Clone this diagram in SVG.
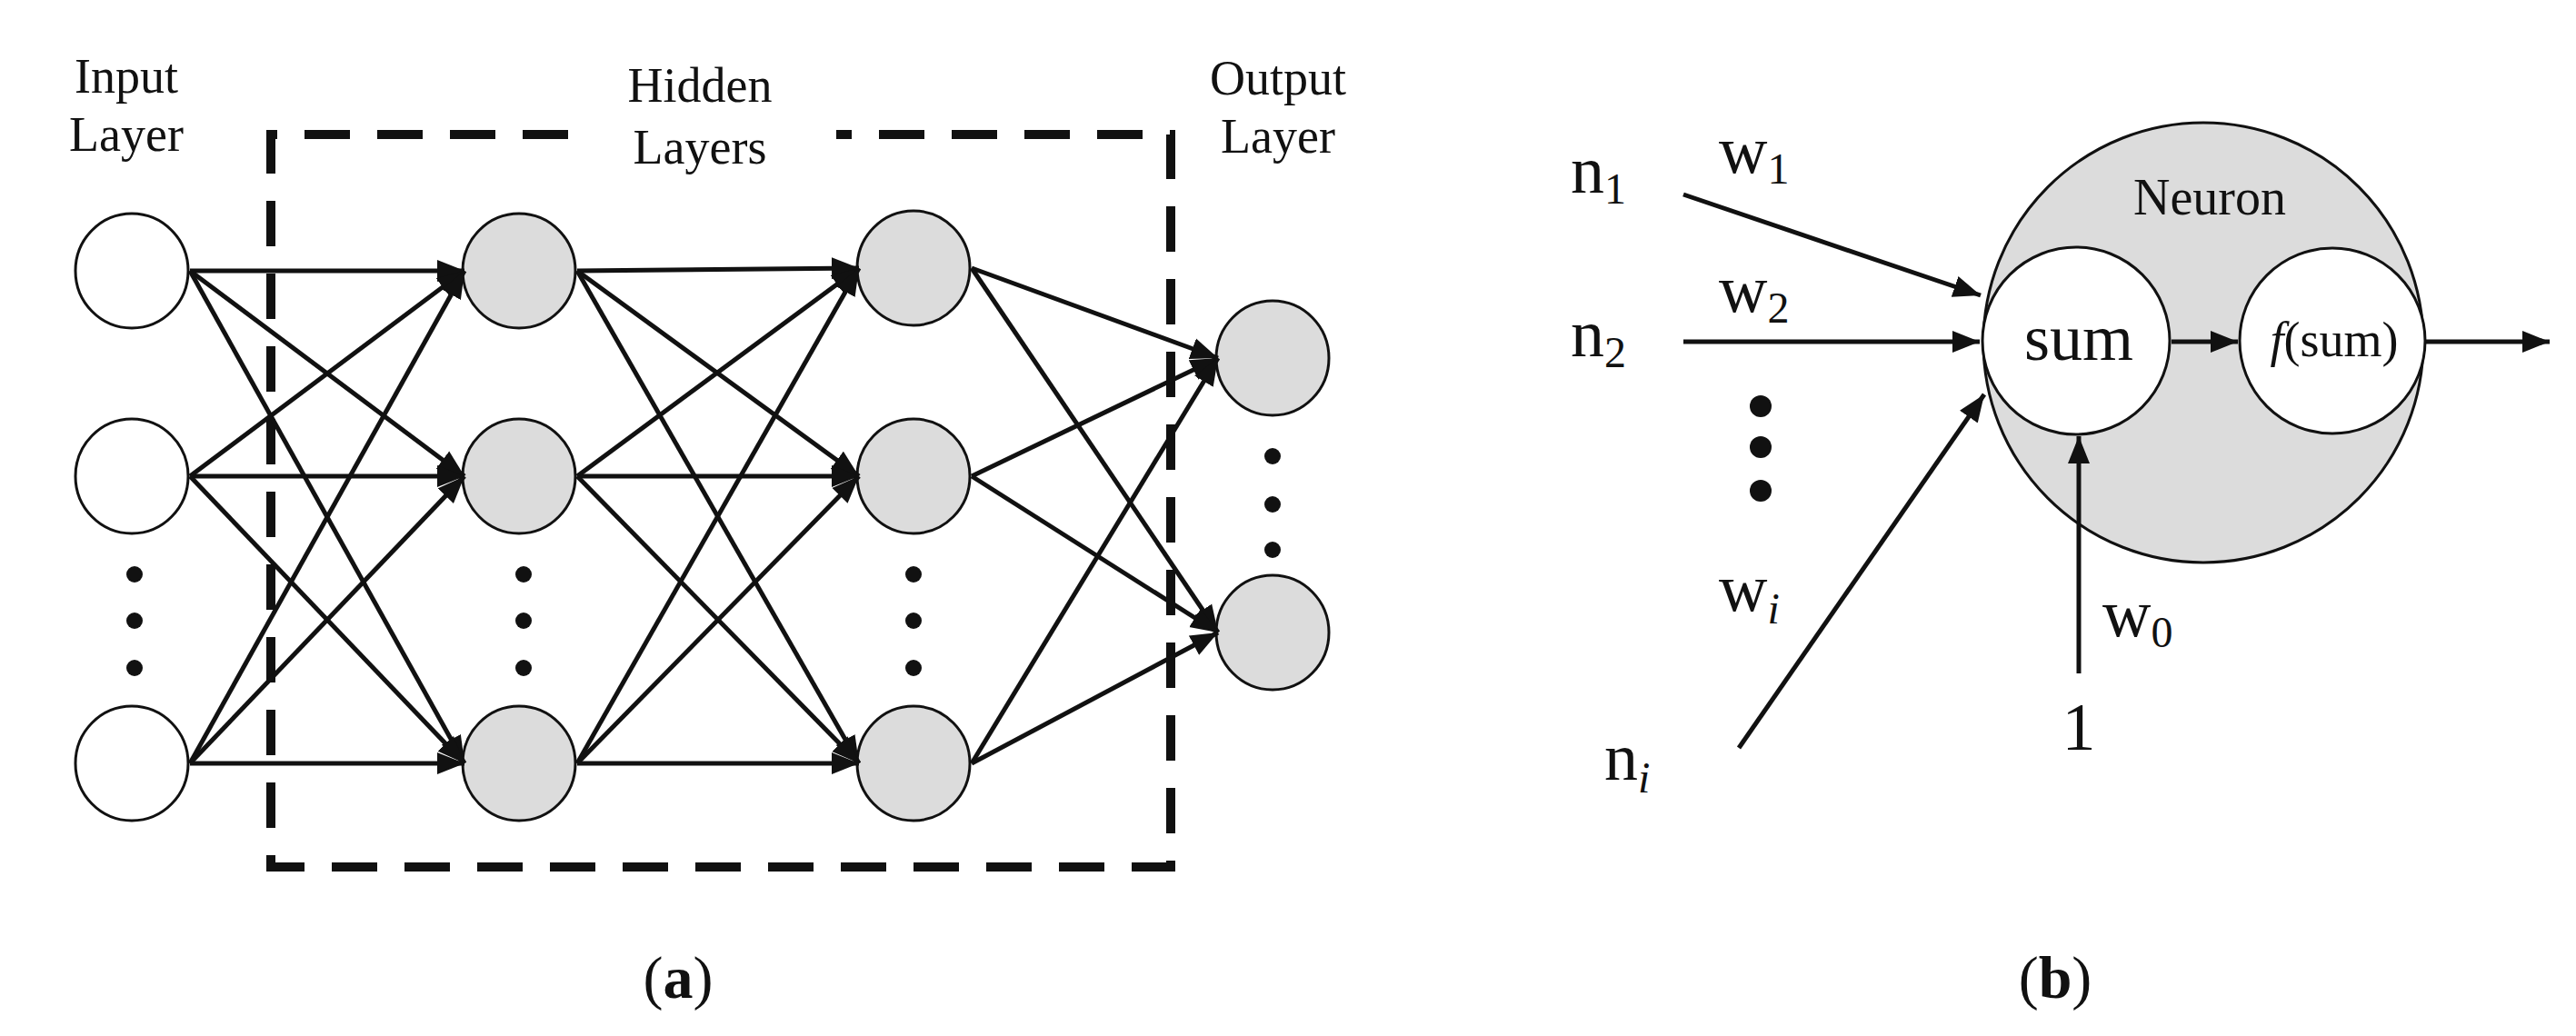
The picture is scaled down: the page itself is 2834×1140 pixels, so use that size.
<svg xmlns="http://www.w3.org/2000/svg" width="2834" height="1140" viewBox="0 0 2834 1140">
<style>
text{font-family:"Liberation Serif","DejaVu Serif",serif;fill:#111}
.w{fill:#fff;stroke:#111;stroke-width:3}
.g{fill:#dcdcdc;stroke:#111;stroke-width:3}
#connectors line{stroke:#111;stroke-width:5;marker-end:url(#ah)}
.lbl{font-size:54px;text-anchor:middle}
.big{font-size:74px}
.sub{font-size:48px}
</style>
<defs>
<marker id="ah" viewBox="0 0 10 8" refX="10" refY="4" markerWidth="6" markerHeight="5" orient="auto" markerUnits="strokeWidth"><path d="M0,0 L10,4 L0,8 z" fill="#111"/></marker>
</defs>
<rect width="2834" height="1140" fill="#fff"/>
<g id="hidden-box"><path d="M625,148 L298,148 L298,954 L1288,954 L1288,148 L920,148" fill="none" stroke="#111" stroke-width="10" stroke-dasharray="50 30"/></g>
<g id="labels-a">
<text class="lbl" x="139" y="102">Input</text><text class="lbl" x="139" y="166">Layer</text>
<text class="lbl" x="770" y="112">Hidden</text><text class="lbl" x="770" y="180">Layers</text>
<text class="lbl" x="1406" y="104">Output</text><text class="lbl" x="1406" y="168">Layer</text>
<text x="746" y="1098" text-anchor="middle" font-size="66">(<tspan font-weight="bold">a</tspan>)</text>
</g>
<g id="input-nodes"><ellipse class="w" cx="145" cy="298" rx="62" ry="63"/><ellipse class="w" cx="145" cy="524" rx="62" ry="63"/><ellipse class="w" cx="145" cy="840" rx="62" ry="63"/></g>
<g id="hidden1-nodes"><ellipse class="g" cx="571" cy="298" rx="62" ry="63"/><ellipse class="g" cx="571" cy="524" rx="62" ry="63"/><ellipse class="g" cx="571" cy="840" rx="62" ry="63"/></g>
<g id="hidden2-nodes"><ellipse class="g" cx="1005" cy="295" rx="62" ry="63"/><ellipse class="g" cx="1005" cy="524" rx="62" ry="63"/><ellipse class="g" cx="1005" cy="840" rx="62" ry="63"/></g>
<g id="output-nodes"><ellipse class="g" cx="1400" cy="394" rx="62" ry="63"/><ellipse class="g" cx="1400" cy="696" rx="62" ry="63"/></g>
<g id="neuron"><circle class="g" cx="2424" cy="377" r="242"/><text x="2431" y="236" font-size="56" text-anchor="middle">Neuron</text></g>
<g id="sum"><circle class="w" cx="2284" cy="375" r="103"/><text x="2287" y="396" font-size="72" text-anchor="middle">sum</text></g>
<g id="fsum"><circle class="w" cx="2566" cy="375" r="102"/><text x="2568" y="392" font-size="54" text-anchor="middle"><tspan font-style="italic">f</tspan>(sum)</text></g>
<g id="connectors">
<line x1="209" y1="298" x2="511" y2="298"/><line x1="209" y1="298" x2="511" y2="524"/><line x1="209" y1="298" x2="511" y2="840"/>
<line x1="209" y1="524" x2="511" y2="298"/><line x1="209" y1="524" x2="511" y2="524"/><line x1="209" y1="524" x2="511" y2="840"/>
<line x1="209" y1="840" x2="511" y2="298"/><line x1="209" y1="840" x2="511" y2="524"/><line x1="209" y1="840" x2="511" y2="840"/>
<line x1="635" y1="298" x2="945" y2="295"/><line x1="635" y1="298" x2="945" y2="524"/><line x1="635" y1="298" x2="945" y2="840"/>
<line x1="635" y1="524" x2="945" y2="295"/><line x1="635" y1="524" x2="945" y2="524"/><line x1="635" y1="524" x2="945" y2="840"/>
<line x1="635" y1="840" x2="945" y2="295"/><line x1="635" y1="840" x2="945" y2="524"/><line x1="635" y1="840" x2="945" y2="840"/>
<line x1="1069" y1="295" x2="1340" y2="394"/><line x1="1069" y1="295" x2="1340" y2="696"/>
<line x1="1069" y1="524" x2="1340" y2="394"/><line x1="1069" y1="524" x2="1340" y2="696"/>
<line x1="1069" y1="840" x2="1340" y2="394"/><line x1="1069" y1="840" x2="1340" y2="696"/>
<line x1="1852" y1="214" x2="2179" y2="325"/><line x1="1852" y1="376" x2="2178" y2="376"/><line x1="1913" y1="823" x2="2183" y2="434"/>
<line x1="2287" y1="741" x2="2287" y2="480"/><line x1="2389" y1="376" x2="2462" y2="376"/><line x1="2668" y1="376" x2="2805" y2="376"/>
</g>
<g id="dots" fill="#111">
<circle cx="148" cy="632" r="9"/><circle cx="148" cy="683" r="9"/><circle cx="148" cy="735" r="9"/>
<circle cx="576" cy="632" r="9"/><circle cx="576" cy="683" r="9"/><circle cx="576" cy="735" r="9"/>
<circle cx="1005" cy="632" r="9"/><circle cx="1005" cy="683" r="9"/><circle cx="1005" cy="735" r="9"/>
<circle cx="1400" cy="502" r="9"/><circle cx="1400" cy="555" r="9"/><circle cx="1400" cy="605" r="9"/>
<circle cx="1937" cy="447" r="12"/><circle cx="1937" cy="492" r="12"/><circle cx="1937" cy="540" r="12"/>
</g>
<g id="labels-b">
<text x="1728" y="212" class="big">n<tspan class="sub" dy="12">1</tspan></text>
<text x="1728" y="392" class="big">n<tspan class="sub" dy="12">2</tspan></text>
<text x="1765" y="858" class="big">n<tspan class="sub" dy="14" font-style="italic">i</tspan></text>
<text x="1891" y="190" class="big">w<tspan class="sub" dy="12">1</tspan></text>
<text x="1891" y="343" class="big">w<tspan class="sub" dy="12">2</tspan></text>
<text x="1891" y="672" class="big">w<tspan class="sub" dy="14" font-style="italic">i</tspan></text>
<text x="2313" y="700" class="big">w<tspan class="sub" dy="12">0</tspan></text>
<text x="2287" y="825" class="big" text-anchor="middle">1</text>
<text x="2261" y="1098" text-anchor="middle" font-size="66">(<tspan font-weight="bold">b</tspan>)</text>
</g>
</svg>
